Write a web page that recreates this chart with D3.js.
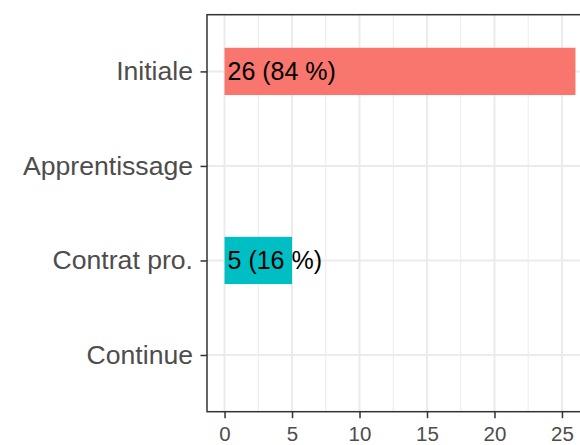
<!DOCTYPE html>
<html>
<head>
<meta charset="utf-8">
<script src="https://cdn.jsdelivr.net/npm/d3@7"></script>
<style>
  html, body { margin: 0; padding: 0; background: #fff; }
  svg { display: block; font-family: "Liberation Sans", Arial, sans-serif; }
</style>
</head>
<body>
<svg id="chart" width="580" height="445"></svg>
<script>
const categories = ["Initiale", "Apprentissage", "Contrat pro.", "Continue"];
const counts = [26, 0, 5, 0];
const percents = [84, 0, 16, 0];
const barColors = ["#F8766D", null, "#00BFC4", null];
const xTicks = [0, 5, 10, 15, 20, 25];
const xMinor = [2.5, 7.5, 12.5, 17.5, 22.5, 27.5];

(function () {
const svg = d3.select("#chart");
const pLeft = 207, pRight = 593, pTop = 14.7, pBottom = 411.7;
const labelSize = 25;

const x = d3.scaleLinear().domain([-1.3, 27.3]).range([pLeft, pRight]);
const y = d3.scalePoint().domain(categories).range([pTop, pBottom]).padding(0.6);
const step = y.step();

const data = categories.map((c, i) => ({ cat: c, n: counts[i], pct: percents[i], color: barColors[i] }));

svg.append("defs").append("clipPath").attr("id", "pclip")
  .append("rect").attr("x", pLeft).attr("y", pTop).attr("width", pRight - pLeft).attr("height", pBottom - pTop);

const panel = svg.append("g").attr("clip-path", "url(#pclip)");

panel.selectAll(".minor").data(xMinor).join("line")
  .attr("x1", d => x(d)).attr("x2", d => x(d)).attr("y1", pTop).attr("y2", pBottom)
  .attr("stroke", "#EBEBEB").attr("stroke-width", 1);
panel.selectAll(".majorx").data(xTicks).join("line")
  .attr("x1", d => x(d)).attr("x2", d => x(d)).attr("y1", pTop).attr("y2", pBottom)
  .attr("stroke", "#EBEBEB").attr("stroke-width", 2);
panel.selectAll(".majory").data(categories).join("line")
  .attr("x1", pLeft).attr("x2", pRight).attr("y1", d => y(d)).attr("y2", d => y(d))
  .attr("stroke", "#EBEBEB").attr("stroke-width", 2);

const shown = data.filter(d => d.n > 0);
panel.selectAll(".bar").data(shown).join("rect")
  .attr("x", x(0)).attr("width", d => x(d.n) - x(0))
  .attr("y", d => y(d.cat) - step * 0.25).attr("height", step * 0.5)
  .attr("fill", d => d.color);

panel.selectAll(".lab").data(shown).join("text")
  .attr("x", x(0) + 3).attr("y", d => y(d.cat) + labelSize * 0.358)
  .attr("font-size", labelSize).attr("fill", "#000")
  .text(d => `${d.n} (${d.pct} %)`);

svg.append("rect").attr("x", pLeft).attr("y", pTop).attr("width", pRight - pLeft).attr("height", pBottom - pTop)
  .attr("fill", "none").attr("stroke", "#333333").attr("stroke-width", 1.5);

const xAxis = svg.append("g").attr("transform", `translate(0,${pBottom})`)
  .call(d3.axisBottom(x).tickValues(xTicks).tickSize(6.5).tickPadding(8.5));
xAxis.select(".domain").remove();
xAxis.selectAll(".tick line").attr("stroke", "#333333").attr("stroke-width", 1.5);
xAxis.selectAll(".tick text").attr("fill", "#4D4D4D").attr("font-size", 20.5)
  .attr("font-family", "Liberation Sans, Arial, sans-serif");

const yAxis = svg.append("g").attr("transform", `translate(${pLeft},0)`)
  .call(d3.axisLeft(y).tickSize(6.5).tickPadding(7.5));
yAxis.select(".domain").remove();
yAxis.selectAll(".tick line").attr("stroke", "#333333").attr("stroke-width", 1.5);
yAxis.selectAll(".tick text").attr("fill", "#4D4D4D").attr("font-size", 26.6)
  .attr("font-family", "Liberation Sans, Arial, sans-serif");
})();
</script>
</body>
</html>
